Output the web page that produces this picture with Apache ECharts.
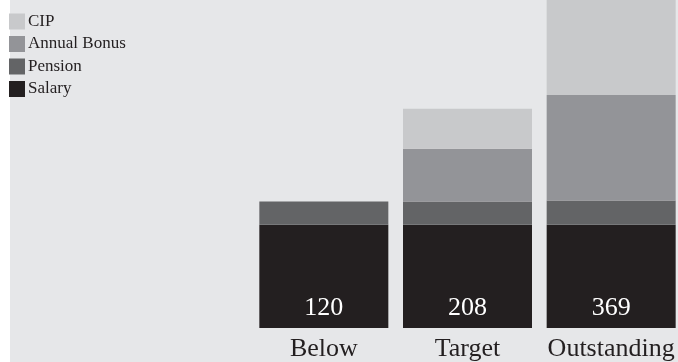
<!DOCTYPE html>
<html>
<head>
<meta charset="utf-8">
<script src="https://cdn.jsdelivr.net/npm/echarts@6/dist/echarts.min.js"></script>
<style>
html,body{margin:0;padding:0;background:#ffffff;}
#wrap{width:678px;height:362px;overflow:hidden;position:relative;}
#chart{width:683px;height:362px;position:absolute;left:0;top:0;}
</style>
</head>
<body>
<div id="wrap"><div id="chart"></div></div>
<script>
const categories = ['Below', 'Target', 'Outstanding'];
const salary = [98, 98, 98];
const pension = [22, 22, 23];
const annualBonus = [0, 50, 100];
const cip = [0, 38, 148];
const totals = [120, 208, 369];
const legendOrder = ['CIP', 'Annual Bonus', 'Pension', 'Salary'];

const FONT = '"Liberation Serif", "DejaVu Serif", serif';
const chart = echarts.init(document.getElementById('chart'), null, {renderer: 'canvas'});

const barW = 129;
function ser(name, data, color, extra) {
  return Object.assign({
    name: name,
    type: 'bar',
    stack: 'pay',
    data: data,
    barWidth: barW,
    itemStyle: {color: color},
    emphasis: {disabled: true},
    silent: true,
    animation: false
  }, extra || {});
}

chart.setOption({
  animation: false,
  backgroundColor: '#ffffff',
  graphic: [{
    type: 'rect',
    left: 10, top: 0, z: -10,
    shape: {width: 673, height: 362},
    style: {fill: '#E6E7E9'},
    silent: true
  }],
  legend: {
    orient: 'vertical',
    left: 9,
    top: 13,
    padding: 0,
    itemWidth: 16,
    itemHeight: 16,
    itemGap: 5.5,
    icon: 'rect',
    selectedMode: false,
    data: legendOrder,
    textStyle: {fontFamily: FONT, fontSize: 17, color: '#231F20', padding: [0, 0, 0, -2]}
  },
  grid: {left: 252, right: 0, top: 0, bottom: 31},
  xAxis: {
    type: 'category',
    data: categories,
    axisLine: {show: false},
    axisTick: {show: false},
    axisLabel: {
      fontFamily: FONT, fontSize: 26, color: '#231F20', margin: 8,
      interval: 0, hideOverlap: false
    }
  },
  yAxis: {
    type: 'value',
    min: 0,
    max: 311,
    show: false,
    splitLine: {show: false}
  },
  series: [
    ser('Salary', salary, '#231F20', {
      label: {
        show: true,
        position: 'insideBottom',
        distance: 7,
        fontFamily: FONT,
        fontSize: 26,
        color: '#ffffff',
        formatter: function (p) { return String(totals[p.dataIndex]); }
      }
    }),
    ser('Pension', pension, '#636466'),
    ser('Annual Bonus', annualBonus, '#939498'),
    ser('CIP', cip, '#C8C9CB')
  ]
});
</script>
</body>
</html>
